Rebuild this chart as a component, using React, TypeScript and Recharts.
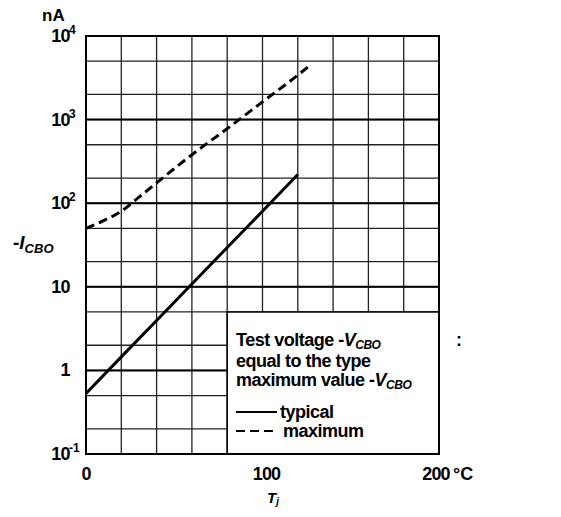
import React from "react";
import {
  CartesianGrid,
  Line,
  LineChart,
  ReferenceArea,
  ReferenceLine,
  XAxis,
  YAxis,
} from "recharts";

// Tj in °C, -ICBO in nA
const typicalTemps = [0, 20, 40, 60, 80, 100, 120];
const typicalNa = [0.53, 1.45, 3.95, 10.8, 29.5, 80, 220];
const maxTemps = [0, 10, 20, 30, 40, 60, 80, 100, 120, 126];
const maxNa = [50, 62, 80, 118, 175, 380, 780, 1630, 3400, 4300];

const xTicks = [0, 20, 40, 60, 80, 100, 120, 140, 160, 180, 200];
const xLabels: Record<number, string> = { 0: "0", 100: "100", 200: "200" };
const yTicks = [
  0.1, 0.2, 0.5, 1, 2, 5, 10, 20, 50, 100, 200, 500, 1000, 2000, 5000, 10000,
];
const decades = [0.1, 1, 10, 100, 1000, 10000];
const decadeBase = ["10", "1", "10", "10", "10", "10"];
const decadeSup = ["-1", "", "", "2", "3", "4"];

// note box in the lower right corner
const boxFrom = 80;
const boxTop = 5;

const typical = typicalTemps.map((t, i) => ({ t, na: typicalNa[i] }));
const maximum = maxTemps.map((t, i) => ({ t, na: maxNa[i] }));

const FONT = '"Liberation Sans", Arial, sans-serif';

function YTick({ y, payload }: any) {
  const i = decades.indexOf(payload.value);
  if (i < 0) return <g />;
  return (
    <g fontFamily={FONT} fontWeight="bold" fill="#000">
      <text x={70} y={y + 6} textAnchor="end" fontSize={18} letterSpacing={-0.6}>
        {decadeBase[i]}
      </text>
      {decadeSup[i] && (
        <text x={69} y={y - 2} fontSize={12}>
          {decadeSup[i]}
        </text>
      )}
    </g>
  );
}

function XTick({ x, payload }: any) {
  const label = xLabels[payload.value];
  if (!label) return <g />;
  const cx = payload.value === 0 ? x : payload.value === 100 ? x + 4 : x - 3;
  return (
    <g fontFamily={FONT} fontWeight="bold" fill="#000" fontSize={18}>
      <text x={cx} y={480} textAnchor="middle" letterSpacing={-0.8}>
        {label}
      </text>
      {payload.value === 200 && (
        <text x={cx + 17} y={480}>
          °C
        </text>
      )}
    </g>
  );
}

export default function App() {
  return (
    <div style={{ position: "absolute", left: 0, top: 0, width: 561, height: 517, background: "#fff" }}>
      <LineChart
        width={561}
        height={517}
        margin={{ top: 36, right: 122, bottom: 33, left: 26 }}
      >
        <CartesianGrid stroke="#222" strokeWidth={1.3} />
        <XAxis
          dataKey="t"
          type="number"
          domain={[0, 200]}
          ticks={xTicks}
          height={30}
          axisLine={false}
          tickLine={false}
          tick={<XTick />}
          allowDuplicatedCategory={false}
        />
        <YAxis
          type="number"
          scale="log"
          domain={[0.1, 10000]}
          ticks={yTicks}
          width={60}
          axisLine={false}
          tickLine={false}
          tick={<YTick />}
          allowDataOverflow
        />
        <ReferenceArea
          x1={boxFrom}
          x2={200}
          y1={0.1}
          y2={boxTop}
          fill="#fff"
          fillOpacity={1}
          stroke="#000"
          strokeWidth={1.5}
        />
        {decades.map((d) =>
          d < boxTop ? (
            <ReferenceLine
              key={d}
              segment={[
                { x: 0, y: d },
                { x: boxFrom, y: d },
              ]}
              stroke="#000"
              strokeWidth={2}
            />
          ) : (
            <ReferenceLine key={d} y={d} stroke="#000" strokeWidth={2} />
          )
        )}
        <ReferenceArea
          x1={0}
          x2={200}
          y1={0.1}
          y2={10000}
          fill="none"
          stroke="#000"
          strokeWidth={2}
        />
        <Line
          data={typical}
          dataKey="na"
          stroke="#000"
          strokeWidth={3}
          dot={false}
          isAnimationActive={false}
        />
        <Line
          data={maximum}
          dataKey="na"
          type="monotone"
          stroke="#000"
          strokeWidth={3}
          strokeDasharray="9 5"
          dot={false}
          isAnimationActive={false}
        />
      </LineChart>
      <svg
        width={561}
        height={517}
        style={{ position: "absolute", left: 0, top: 0, pointerEvents: "none" }}
        fontFamily={FONT}
        fontWeight="bold"
        fill="#000"
      >
        <text x={42} y={21} fontSize={17}>nA</text>
        <text x={13} y={249} fontSize={19} fontStyle="italic">
          -I
          <tspan fontSize={13} dy={4}>CBO</tspan>
        </text>
        <text x={267} y={503} fontSize={15} fontStyle="italic">
          T<tspan fontSize={10} dy={2}>j</tspan>
        </text>
        <g fontSize={18} letterSpacing={-0.5}>
          <text x={236} y={346}>
            Test  voltage -<tspan fontStyle="italic">V</tspan>
            <tspan fontSize={12} dy={3} fontStyle="italic">CBO</tspan>
          </text>
          <text x={456} y={346}>:</text>
          <text x={236} y={367}>equal to the type</text>
          <text x={236} y={386}>
            maximum value -<tspan fontStyle="italic">V</tspan>
            <tspan fontSize={12} dy={3} fontStyle="italic">CBO</tspan>
          </text>
          <text x={280} y={418}>typical</text>
          <text x={283} y={437}>maximum</text>
        </g>
        <line x1={236} x2={277} y1={412} y2={412} stroke="#000" strokeWidth={2} />
        <line x1={236} x2={277} y1={431} y2={431} stroke="#000" strokeWidth={2} strokeDasharray="9 5" />
      </svg>
    </div>
  );
}
